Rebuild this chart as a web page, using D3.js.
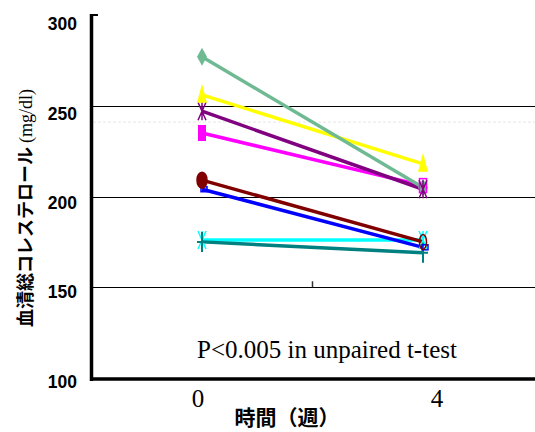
<!DOCTYPE html>
<html>
<head>
<meta charset="utf-8">
<script src="https://cdn.jsdelivr.net/npm/d3@7"></script>
<style>
  body { margin: 0; background: #fff; }
  svg { display: block; }
</style>
</head>
<body>
<div id="chart"></div>
<script>
// data (mg/dl at week 0 and week 4)
const weeks = [0, 4];
const green = [277, 205];
const yellow = [256, 218];
const purple = [247, 204];
const magenta = [235, 206];
const darkred = [209, 175];
const blue = [204, 172];
const cyan = [176, 176];
const teal = [175, 169];

const yTicks = [100, 150, 200, 250, 300];
const gridValues = [250, 200, 150];
const faintValues = [241];
const xTickLabels = ["0", "4"];

const yTitleJa = "血清総コレステロール";
const yTitleUnit = "(mg/dl)";
const xTitle = "時間（週）";
const note = "P<0.005 in unpaired t-test";

// drawing order: bottom to top
const series = [
  { values: cyan, color: "#00ffff", marker: "asterisk" },
  { values: teal, color: "#008080", marker: "plus" },
  { values: blue, color: "#0000ff", marker: "smallsquare" },
  { values: darkred, color: "#800000", marker: "ellipse" },
  { values: magenta, color: "#ff00ff", marker: "square" },
  { values: purple, color: "#800080", marker: "asterisk" },
  { values: yellow, color: "#ffff00", marker: "triangle" },
  { values: green, color: "#6fba93", marker: "diamond" },
];

const svgWidth = 535;
const svgHeight = 432;

const svg = d3
  .select("#chart")
  .append("svg")
  .attr("width", svgWidth)
  .attr("height", svgHeight);

const xScale = d3.scaleLinear().domain([0, 4]).range([202, 423]);
const yScale = d3.scaleLinear().domain([100, 300]).range([378, 15]);
// tick labels sit a little below their gridlines in the original
const labelY = d3.scaleLinear().domain([100, 300]).range([381.5, 24]);
const labelX = d3.scaleLinear().domain([0, 4]).range([198, 437]);

// faint dashed line
svg
  .selectAll(".faint")
  .data(faintValues)
  .enter()
  .append("line")
  .attr("x1", 93)
  .attr("x2", svgWidth)
  .attr("y1", (d) => yScale(d))
  .attr("y2", (d) => yScale(d))
  .attr("stroke", "#e6e6e6")
  .attr("stroke-width", 1)
  .attr("stroke-dasharray", "3,2");

// gridlines
svg
  .selectAll(".grid")
  .data(gridValues)
  .enter()
  .append("line")
  .attr("x1", 93)
  .attr("x2", svgWidth)
  .attr("y1", (d) => Math.round(yScale(d)) + 0.5)
  .attr("y2", (d) => Math.round(yScale(d)) + 0.5)
  .attr("stroke", "#000")
  .attr("stroke-width", 1.2);

// small mid tick on the 150 line
svg
  .append("line")
  .attr("x1", xScale(2))
  .attr("x2", xScale(2))
  .attr("y1", yScale(150))
  .attr("y2", yScale(150) - 6)
  .attr("stroke", "#333")
  .attr("stroke-width", 1.5);

// axes
svg
  .append("line")
  .attr("x1", 91.5)
  .attr("x2", 91.5)
  .attr("y1", yScale(300) - 1)
  .attr("y2", yScale(100) + 3)
  .attr("stroke", "#000")
  .attr("stroke-width", 3.5);
svg
  .append("line")
  .attr("x1", 90)
  .attr("x2", 98)
  .attr("y1", yScale(300))
  .attr("y2", yScale(300))
  .attr("stroke", "#000")
  .attr("stroke-width", 2);
svg
  .append("line")
  .attr("x1", 90)
  .attr("x2", svgWidth)
  .attr("y1", yScale(100) + 1)
  .attr("y2", yScale(100) + 1)
  .attr("stroke", "#000")
  .attr("stroke-width", 3.5);

// y tick labels
svg
  .selectAll(".ytick")
  .data(yTicks)
  .enter()
  .append("text")
  .attr("x", 77)
  .attr("y", (d) => labelY(d))
  .attr("dy", "0.36em")
  .attr("text-anchor", "end")
  .style("font-family", "'Liberation Sans', Arial, sans-serif")
  .style("font-weight", "bold")
  .style("font-size", "17.5px")
  .text((d) => d);

// x tick labels
svg
  .selectAll(".xtick")
  .data(weeks)
  .enter()
  .append("text")
  .attr("x", (d) => labelX(d))
  .attr("y", 407)
  .attr("text-anchor", "middle")
  .style("font-family", "'Liberation Serif', 'Times New Roman', serif")
  .style("font-size", "25px")
  .text((d, i) => xTickLabels[i]);

// x title
svg
  .append("text")
  .attr("x", 287)
  .attr("y", 425)
  .attr("text-anchor", "middle")
  .style("font-family", "'Noto Sans CJK JP', sans-serif")
  .style("font-weight", "bold")
  .style("font-size", "21px")
  .text(xTitle);

// y title
const yTitle = svg
  .append("text")
  .attr("transform", "translate(32,208) rotate(-90)")
  .attr("text-anchor", "middle");
yTitle
  .append("tspan")
  .style("font-family", "'Noto Sans CJK JP', sans-serif")
  .style("font-weight", "bold")
  .style("font-size", "18px")
  .text(yTitleJa + " ");
yTitle
  .append("tspan")
  .style("font-family", "'Liberation Serif', 'Times New Roman', serif")
  .style("font-size", "18px")
  .text(yTitleUnit);

// annotation
svg
  .append("text")
  .attr("x", 197)
  .attr("y", 358)
  .style("font-family", "'Liberation Serif', 'Times New Roman', serif")
  .style("font-size", "25px")
  .text(note);

// lines
const line = d3
  .line()
  .x((d, i) => xScale(weeks[i]))
  .y((d) => yScale(d));

series.forEach((s) => {
  svg
    .append("path")
    .datum(s.values)
    .attr("fill", "none")
    .attr("stroke", s.color)
    .attr("stroke-width", 3.5)
    .attr("d", line);
});

// markers
function drawMarker(g, type, color, cx, cy, first) {
  if (type === "diamond") {
    g.append("path")
      .attr("d", `M${cx},${cy - 9}L${cx + 5},${cy}L${cx},${cy + 9}L${cx - 5},${cy}Z`)
      .attr("fill", color);
  } else if (type === "triangle") {
    g.append("path")
      .attr("d", `M${cx},${cy - 11}L${cx + 5},${cy + 8}L${cx - 5},${cy + 8}Z`)
      .attr("fill", color);
  } else if (type === "square") {
    if (first) {
      g.append("rect")
        .attr("x", cx - 4)
        .attr("y", cy - 8)
        .attr("width", 8)
        .attr("height", 16)
        .attr("fill", color);
    } else {
      g.append("rect")
        .attr("x", cx - 3.5)
        .attr("y", cy - 7)
        .attr("width", 7)
        .attr("height", 14)
        .attr("fill", "none")
        .attr("stroke", color)
        .attr("stroke-width", 1.5);
    }
  } else if (type === "ellipse") {
    g.append("ellipse")
      .attr("cx", cx)
      .attr("cy", cy)
      .attr("rx", first ? 5 : 3.5)
      .attr("ry", first ? 8 : 7.5)
      .attr("fill", first ? color : "none")
      .attr("stroke", color)
      .attr("stroke-width", 1.5);
  } else if (type === "smallsquare") {
    g.append("rect")
      .attr("x", cx - 1)
      .attr("y", cy - 2.5)
      .attr("width", 6)
      .attr("height", 5)
      .attr("fill", "none")
      .attr("stroke", color)
      .attr("stroke-width", 1.5);
  } else if (type === "asterisk") {
    g.append("path")
      .attr(
        "d",
        `M${cx - 4},${cy - 9}L${cx + 4},${cy + 9}M${cx + 4},${cy - 9}L${cx - 4},${cy + 9}M${cx},${cy - 9}L${cx},${cy + 9}`
      )
      .attr("fill", "none")
      .attr("stroke", color)
      .attr("stroke-width", 1.5);
  } else if (type === "plus") {
    g.append("path")
      .attr("d", `M${cx},${cy - 10}L${cx},${cy + 10}M${cx - 5},${cy}L${cx + 5},${cy}`)
      .attr("fill", "none")
      .attr("stroke", color)
      .attr("stroke-width", 2);
  }
}

// green markers go underneath so the converging end stays hidden, as in the original
const markerOrder = [series[series.length - 1]].concat(series.slice(0, -1));
markerOrder.forEach((s) => {
  s.values.forEach((v, i) => {
    drawMarker(svg, s.marker, s.color, xScale(weeks[i]), yScale(v), i === 0);
  });
});
</script>
</body>
</html>
